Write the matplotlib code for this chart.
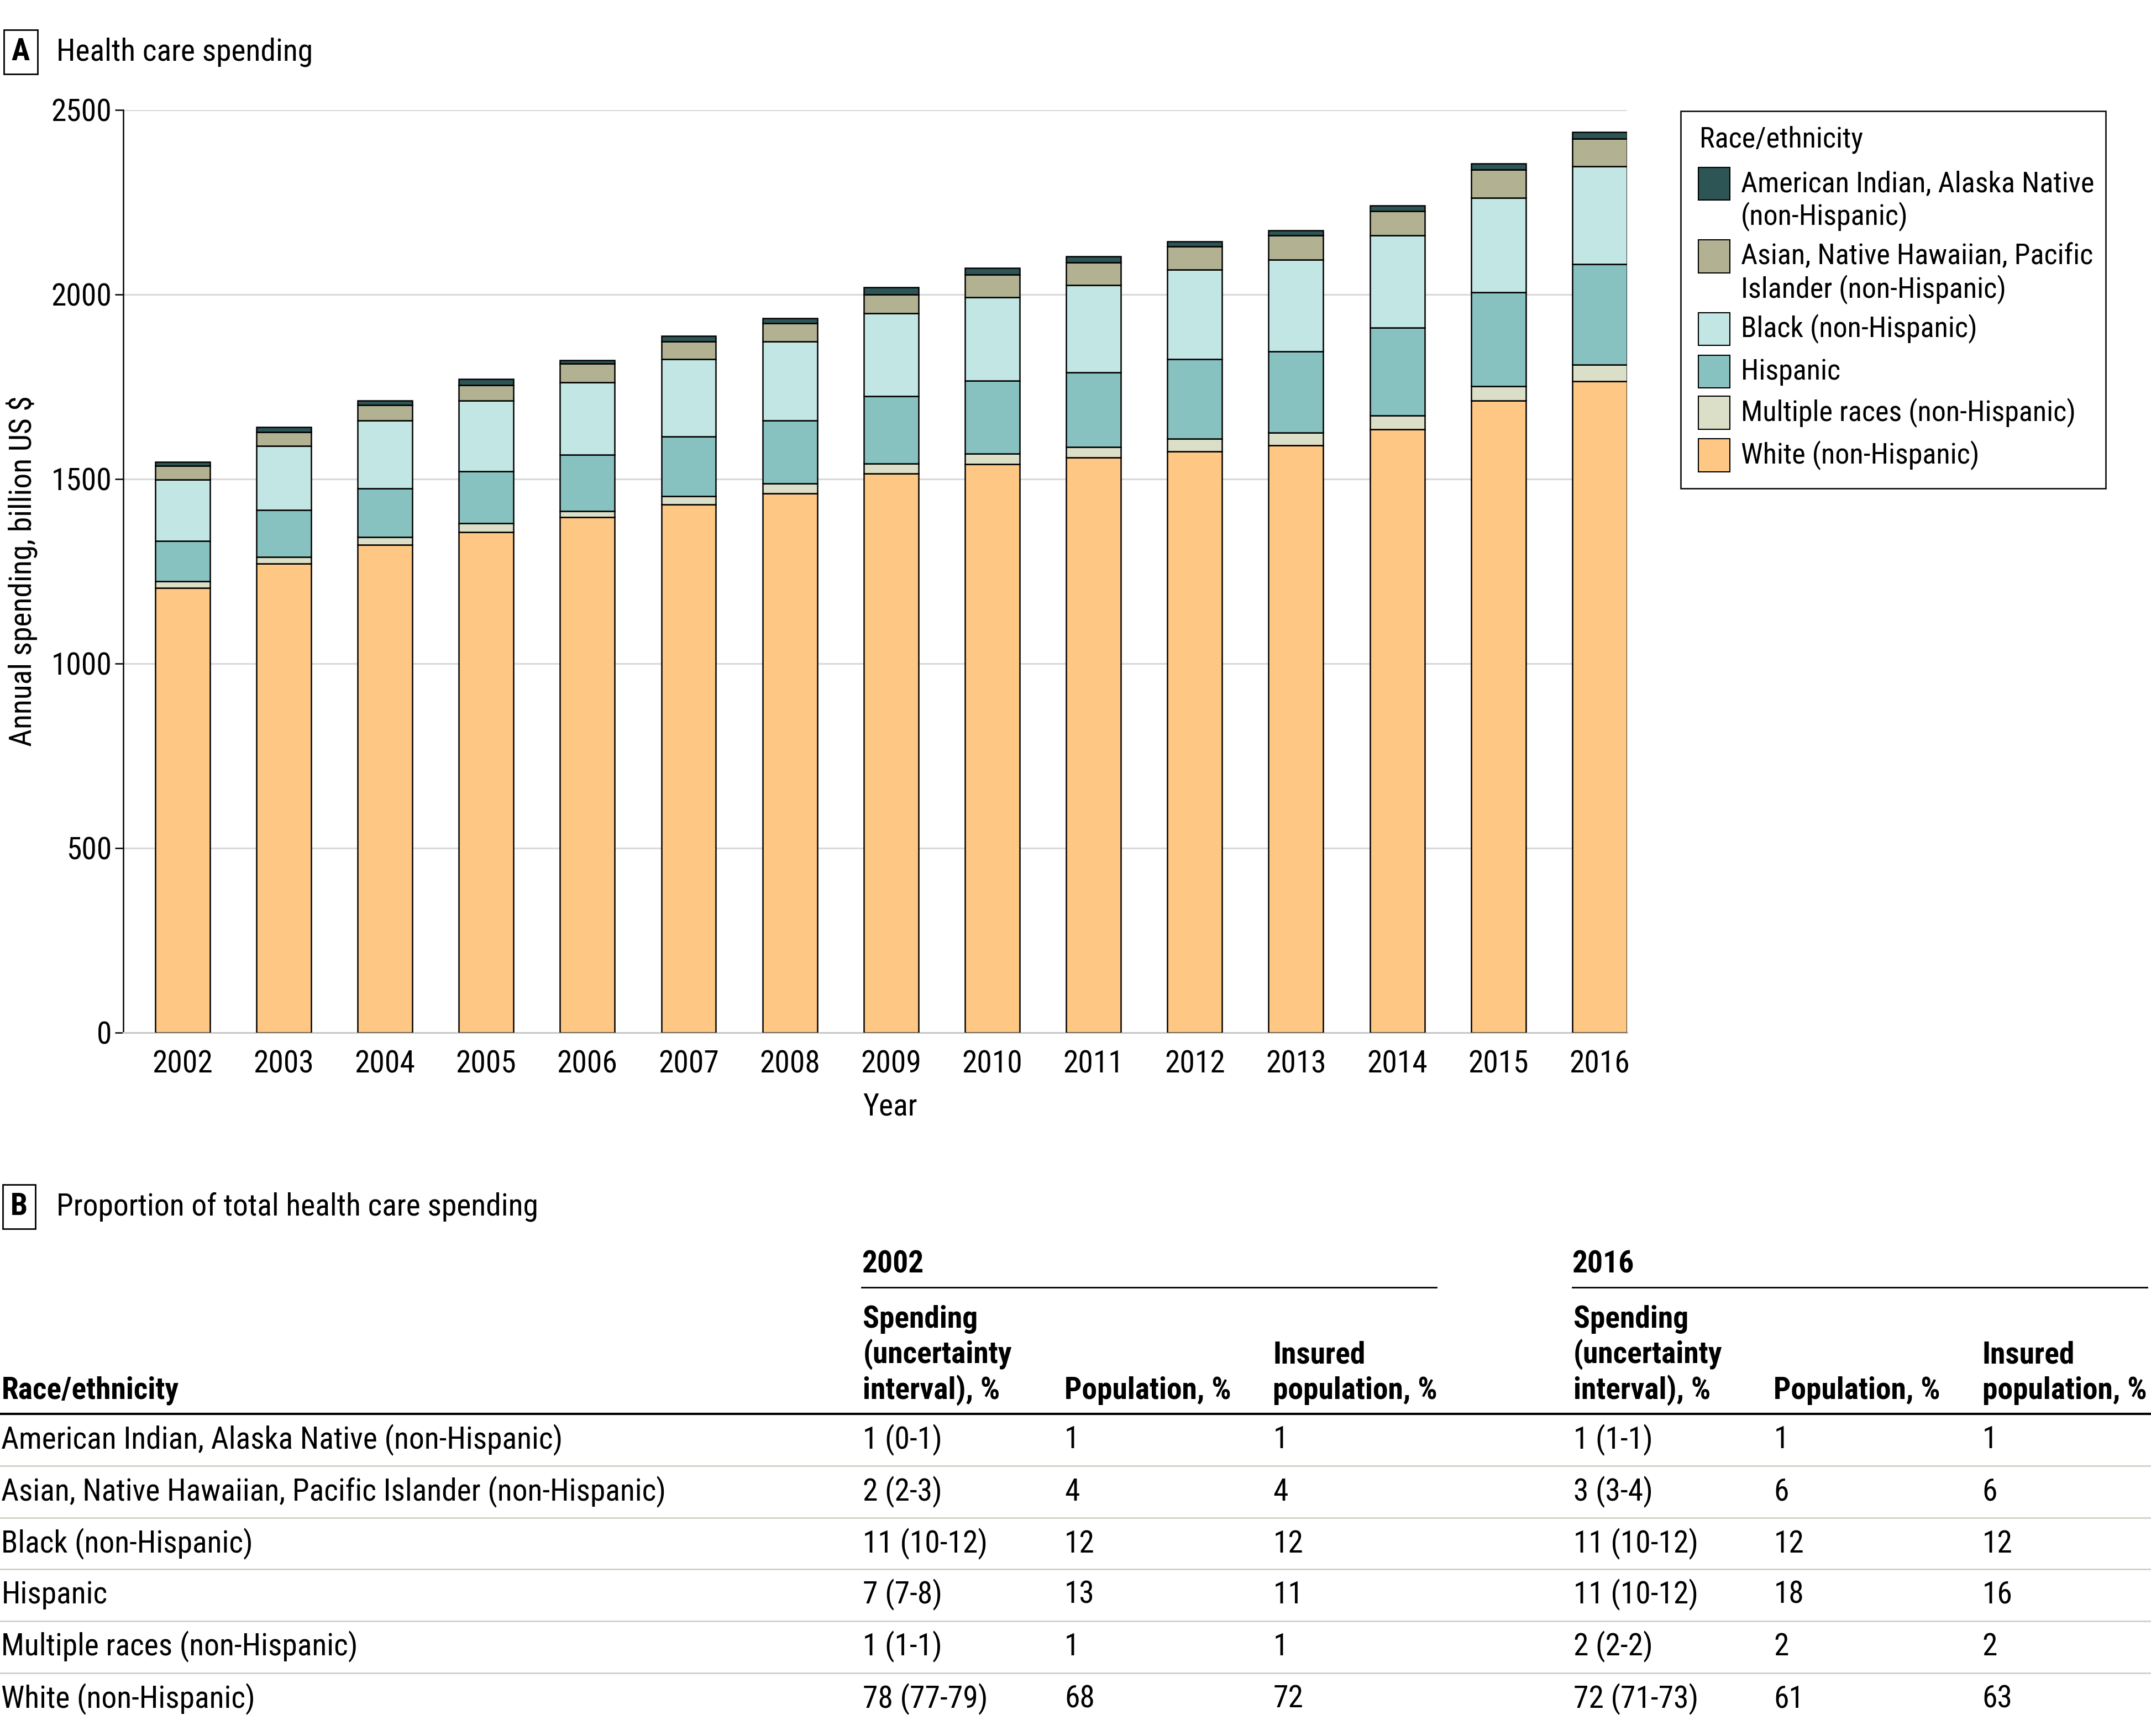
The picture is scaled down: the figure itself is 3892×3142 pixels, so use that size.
import numpy as np
import matplotlib
matplotlib.use("Agg")
import matplotlib.pyplot as plt
from matplotlib.patches import Rectangle
from matplotlib.lines import Line2D

plt.rcParams['font.family'] = ['Roboto Condensed', 'Liberation Sans Narrow', 'Lato', 'DejaVu Sans']

# ---- data (billion US $) ----
years = ['2002', '2003', '2004', '2005', '2006', '2007', '2008', '2009',
         '2010', '2011', '2012', '2013', '2014', '2015', '2016']
white = [1205, 1270, 1321, 1356, 1396, 1431, 1461, 1514, 1540, 1558, 1575, 1591, 1634, 1712, 1764]
multiple = [17, 19, 21, 23, 17, 22, 26, 27, 28, 28, 34, 34, 38, 39, 45]
hispanic = [110, 126, 132, 142, 152, 161, 171, 183, 198, 202, 215, 220, 237, 255, 272]
black = [166, 175, 184, 191, 197, 210, 214, 225, 226, 237, 243, 248, 251, 255, 265]
asian = [38, 37, 42, 42, 51, 48, 50, 51, 62, 61, 63, 67, 66, 76, 76]
aian = [10, 13, 12, 16, 9, 15, 13, 19, 17, 16, 13, 13, 15, 17, 18]

groups = ['White (non-Hispanic)', 'Multiple races (non-Hispanic)', 'Hispanic',
          'Black (non-Hispanic)', 'Asian, Native Hawaiian, Pacific\nIslander (non-Hispanic)',
          'American Indian, Alaska Native\n(non-Hispanic)']
colors = ['#fec784', '#dcdfc8', '#87c2c0', '#c2e6e4', '#b2b293', '#2d5556']

# table for panel B
row_labels = ['American Indian, Alaska Native (non-Hispanic)',
              'Asian, Native Hawaiian, Pacific Islander (non-Hispanic)',
              'Black (non-Hispanic)', 'Hispanic',
              'Multiple races (non-Hispanic)', 'White (non-Hispanic)']
spend_2002 = ['1 (0-1)', '2 (2-3)', '11 (10-12)', '7 (7-8)', '1 (1-1)', '78 (77-79)']
pop_2002 = ['1', '4', '12', '13', '1', '68']
ins_2002 = ['1', '4', '12', '11', '1', '72']
spend_2016 = ['1 (1-1)', '3 (3-4)', '11 (10-12)', '11 (10-12)', '2 (2-2)', '72 (71-73)']
pop_2016 = ['1', '6', '12', '18', '2', '61']
ins_2016 = ['1', '6', '12', '16', '2', '63']

FS = 40
LFS = 37.5
W, H = 1568.0, 1266.0


def fx(x):
    return x / W


def fy(y):
    return 1 - y / H


fig = plt.figure(figsize=(38.92, 31.42), dpi=100)

# ---- panel A ----
fig.text(fx(15), fy(38), 'A', fontsize=FS, fontweight='bold', ha='center', va='center',
         bbox=dict(boxstyle='square,pad=0.25', fc='white', ec='black', lw=2))
fig.text(fx(41), fy(38), 'Health care spending', fontsize=FS, ha='left', va='center')

ax = fig.add_axes([fx(90), fy(753), fx(1186) - fx(90), fy(80) - fy(753)])
x = np.arange(len(years))
series = [white, multiple, hispanic, black, asian, aian]
bottom = np.zeros(len(years))
for vals, col, lab in zip(series, colors, groups):
    ax.bar(x, vals, width=0.54, bottom=bottom, color=col, edgecolor='black',
           linewidth=1.8, label=lab, zorder=3)
    bottom += np.array(vals)

ax.set_ylim(0, 2500)
ax.set_xlim(-0.583, len(years) - 1 + 0.27)
ax.set_yticks([0, 500, 1000, 1500, 2000, 2500])
ax.set_xticks(x)
ax.set_xticklabels(years)
ax.yaxis.grid(True, color='#d9d9d9', linewidth=2.2, zorder=0)
ax.set_axisbelow(True)
for s in ['top', 'right']:
    ax.spines[s].set_visible(False)
ax.spines['left'].set_linewidth(1.8)
ax.spines['bottom'].set_linewidth(2.2)
ax.spines['bottom'].set_color('#c8c8c8')
ax.tick_params(axis='y', labelsize=FS, length=11, width=1.8, pad=4)
ax.tick_params(axis='x', labelsize=FS, length=0, pad=22)
ax.set_xlabel('Year', fontsize=FS)
ax.xaxis.set_label_coords((649 - 90) / (1186 - 90), (753 - 807) / (753 - 80))
ax.xaxis.label.set_va('center')
ax.set_ylabel('Annual spending, billion US $', fontsize=FS, labelpad=18)

# legend drawn by hand so the swatch sits on the first line of each entry
fig.add_artist(Rectangle((fx(1225), fy(356)), fx(1535) - fx(1225), fy(81) - fy(356),
                         transform=fig.transFigure, fill=False, ec='black', lw=1.8))
fig.text(fx(1239), fy(102), 'Race/ethnicity', fontsize=LFS, ha='left', va='center')
leg_y = [134, 187, 240, 271, 301, 332]
for yy, col, lab in zip(leg_y, colors[::-1], groups[::-1]):
    fig.add_artist(Rectangle((fx(1238), fy(yy + 12)), fx(23), fy(0) - fy(24),
                             transform=fig.transFigure, fc=col, ec='black', lw=1.5))
    for k, ln in enumerate(lab.split('\n')):
        fig.text(fx(1269), fy(yy + 24 * k), ln, fontsize=LFS, ha='left', va='center')

# ---- panel B: table ----
fig.text(fx(14), fy(880), 'B', fontsize=FS, fontweight='bold', ha='center', va='center',
         bbox=dict(boxstyle='square,pad=0.25', fc='white', ec='black', lw=2))
fig.text(fx(41), fy(880), 'Proportion of total health care spending', fontsize=FS,
         ha='left', va='center')

col_x = [628, 775, 927, 1146, 1292, 1444]
for gx, gl in [(628, '2002'), (1146, '2016')]:
    fig.text(fx(gx), fy(922), gl, fontsize=FS, fontweight='bold', ha='left', va='center')
    fig.add_artist(Line2D([fx(gx), fx(gx + 419)], [fy(939), fy(939)], color='black', lw=2))

hdr = [(0, ['Race/ethnicity'])]
for base in (0, 3):
    hdr.append((col_x[base], ['Spending', '(uncertainty', 'interval), %']))
    hdr.append((col_x[base + 1], ['Population, %']))
    hdr.append((col_x[base + 2], ['Insured', 'population, %']))
for hx, lines in hdr:
    for k, ln in enumerate(lines[::-1]):
        fig.text(fx(hx + 1), fy(1014 - 26 * k), ln, fontsize=FS, fontweight='bold',
                 ha='left', va='center')

fig.add_artist(Line2D([0, 1], [fy(1031), fy(1031)], color='black', lw=3))
row_y = [1050, 1088, 1126, 1163, 1201, 1239]
cols = [spend_2002, pop_2002, ins_2002, spend_2016, pop_2016, ins_2016]
for i, ry in enumerate(row_y):
    fig.text(fx(1), fy(ry), row_labels[i], fontsize=FS, ha='left', va='center')
    for cx, cv in zip(col_x, cols):
        fig.text(fx(cx + 1), fy(ry), cv[i], fontsize=FS, ha='left', va='center')
    if i < len(row_y) - 1:
        sy = (ry + row_y[i + 1]) / 2
        fig.add_artist(Line2D([0, 1], [fy(sy), fy(sy)], color='#cfd1c6', lw=2))

fig.savefig('out.png', dpi=100)
